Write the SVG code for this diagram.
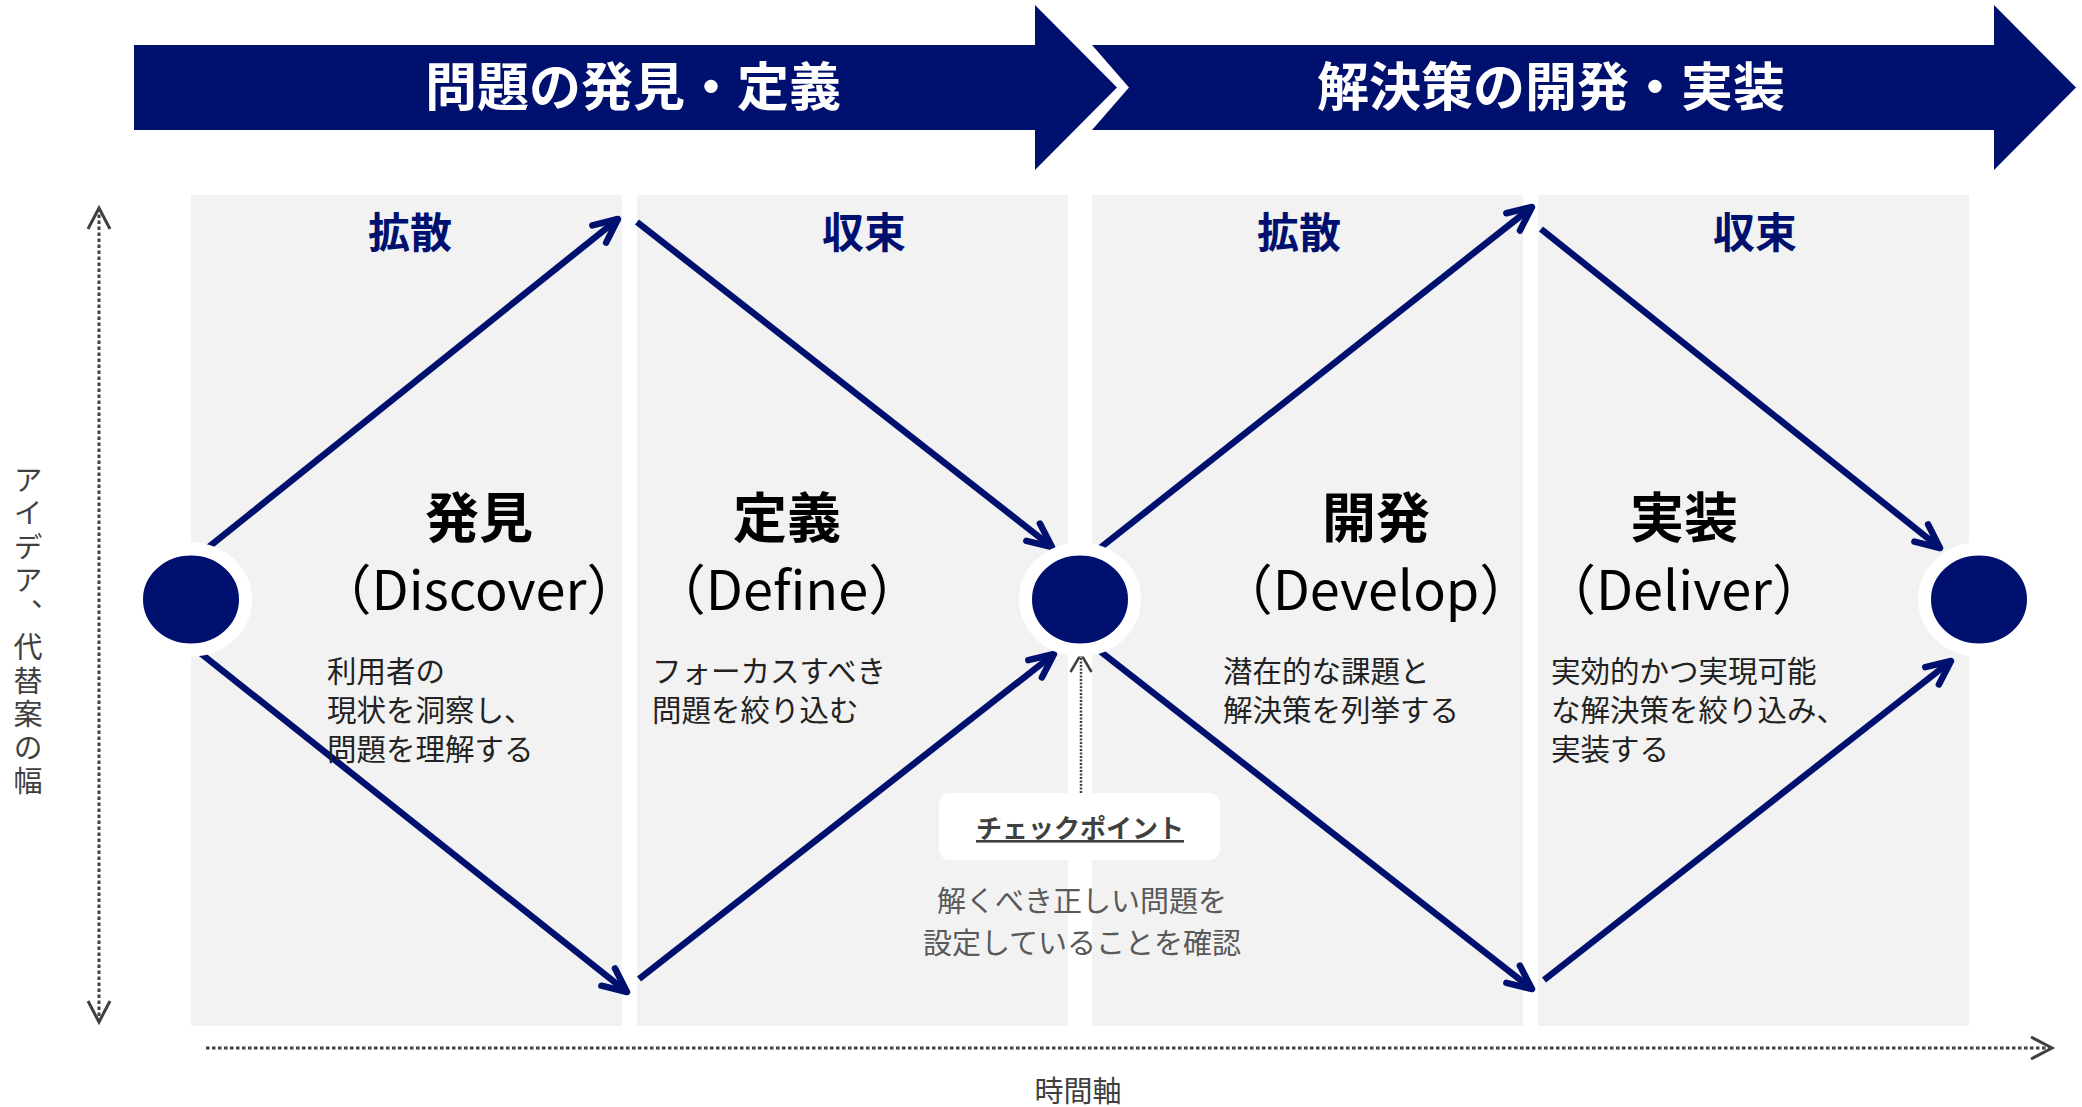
<svg xmlns="http://www.w3.org/2000/svg" width="2082" height="1107" viewBox="0 0 2082 1107">
<style>
.jp{font-family:"Noto Sans CJK JP","Noto Sans",sans-serif}
.ban{fill:#00106F}
.hdr{fill:#FFFFFF;font-size:52px;font-weight:700;text-anchor:middle}
.panel{fill:#F2F2F2}
.phase{fill:#00106F;font-size:42px;font-weight:700;text-anchor:middle}
.title{fill:#000000;font-size:54px;font-weight:700;text-anchor:middle}
.sub{fill:#000000;font-size:54px;font-weight:400;text-anchor:middle}
.desc{fill:#222222;font-size:29.5px}
.dot{fill:#00106F;stroke:#FFFFFF;stroke-width:13}
.arr{fill:none;stroke:#00106F;stroke-width:6.5;marker-end:url(#ah)}
.axis{fill:none;stroke:#404040;stroke-width:3;stroke-dasharray:3.5 2.5}
.note{fill:#595959;font-size:29px;text-anchor:middle}
.axl{fill:#404040;font-size:29px}
</style>
<defs>
<marker id="ah" markerUnits="userSpaceOnUse" orient="auto" refX="0" refY="0" markerWidth="40" markerHeight="40" overflow="visible">
<path d="M-24,-11 L0,0 L-24,11" fill="none" stroke="#00106F" stroke-width="6.5" stroke-linecap="round" stroke-linejoin="round"/>
</marker>
<marker id="gh" markerUnits="userSpaceOnUse" orient="auto-start-reverse" refX="0" refY="0" markerWidth="40" markerHeight="40" overflow="visible">
<path d="M-21,-11 L0,0 L-21,11" fill="none" stroke="#404040" stroke-width="3" stroke-dasharray="none" stroke-linejoin="miter"/>
</marker>
<marker id="ch" markerUnits="userSpaceOnUse" orient="auto" refX="0" refY="0" markerWidth="40" markerHeight="40" overflow="visible">
<path d="M-18,-10.5 L0,0 L-18,10.5" fill="none" stroke="#404040" stroke-width="2.5" stroke-dasharray="none"/>
</marker>
</defs>

<g id="banner-problem">
<polygon class="ban" points="134,45 1035,45 1035,5 1117,87.5 1035,170 1035,130 134,130"/>
<text class="jp hdr" x="633" y="106">問題の発見・定義</text>
</g>
<g id="banner-solution">
<polygon class="ban" points="1092,45 1994,45 1994,5 2076,87.5 1994,170 1994,130 1092,130 1129,87.5"/>
<text class="jp hdr" x="1551" y="106">解決策の開発・実装</text>
</g>

<g id="panel-discover">
<rect class="panel" x="191" y="195" width="431" height="831"/>
</g>
<g id="panel-define">
<rect class="panel" x="637" y="195" width="431" height="831"/>
</g>
<g id="panel-develop">
<rect class="panel" x="1092" y="195" width="431" height="831"/>
</g>
<g id="panel-deliver">
<rect class="panel" x="1538" y="195" width="431" height="831"/>
</g>

<g id="connectors">
<path class="arr" d="M205,550 L618,219"/>
<path class="arr" d="M199,652 L627,992"/>
<path class="arr" d="M637,222 L1052,547"/>
<path class="arr" d="M639,979 L1054,654"/>
<path class="arr" d="M1100,548 L1532,207"/>
<path class="arr" d="M1096,648 L1532,989"/>
<path class="arr" d="M1541,229 L1940,548"/>
<path class="arr" d="M1544,980 L1951,661"/>
<path d="M1081,793 L1081,654" fill="none" stroke="#404040" stroke-width="2.5" stroke-dasharray="2 1.5" marker-end="url(#ch)"/>
<path class="axis" d="M99,1022 L99,208" marker-start="url(#gh)" marker-end="url(#gh)"/>
<path class="axis" d="M206,1048 L2052,1048" marker-end="url(#gh)"/>
</g>

<g id="node-start"><ellipse class="dot" cx="191" cy="599.5" rx="54.5" ry="50.5"/></g>
<g id="node-checkpoint-dot"><ellipse class="dot" cx="1080" cy="599.5" rx="54.5" ry="50.5"/></g>
<g id="node-end"><ellipse class="dot" cx="1979" cy="599.5" rx="54.5" ry="50.5"/></g>

<g id="label-diverge-1"><text class="jp phase" x="410" y="248">拡散</text></g>
<g id="label-converge-1"><text class="jp phase" x="864" y="248">収束</text></g>
<g id="label-diverge-2"><text class="jp phase" x="1299" y="248">拡散</text></g>
<g id="label-converge-2"><text class="jp phase" x="1755" y="248">収束</text></g>

<g id="node-discover">
<text class="jp title" x="479" y="538">発見</text>
<text class="jp sub" x="479" y="610">（Discover）</text>
<text class="jp desc" x="327" y="682">利用者の</text>
<text class="jp desc" x="327" y="721">現状を洞察し、</text>
<text class="jp desc" x="327" y="760">問題を理解する</text>
</g>
<g id="node-define">
<text class="jp title" x="787" y="538">定義</text>
<text class="jp sub" x="787" y="610">（Define）</text>
<text class="jp desc" x="652" y="682">フォーカスすべき</text>
<text class="jp desc" x="652" y="721">問題を絞り込む</text>
</g>
<g id="node-develop">
<text class="jp title" x="1376" y="538">開発</text>
<text class="jp sub" x="1376" y="610">（Develop）</text>
<text class="jp desc" x="1223" y="682">潜在的な課題と</text>
<text class="jp desc" x="1223" y="721">解決策を列挙する</text>
</g>
<g id="node-deliver">
<text class="jp title" x="1684" y="538">実装</text>
<text class="jp sub" x="1684" y="610">（Deliver）</text>
<text class="jp desc" x="1551" y="682">実効的かつ実現可能</text>
<text class="jp desc" x="1551" y="721">な解決策を絞り込み、</text>
<text class="jp desc" x="1551" y="760">実装する</text>
</g>

<g id="node-checkpoint">
<rect x="939" y="793" width="281" height="67" rx="11" fill="#FFFFFF"/>
<text class="jp" x="1080" y="838" fill="#404040" font-size="26" font-weight="700" text-anchor="middle" text-decoration="underline">チェックポイント</text>
<text class="jp note" x="1082" y="912">解くべき正しい問題を</text>
<text class="jp note" x="1082" y="954">設定していることを確認</text>
</g>

<g id="axis-labels">
<text class="jp axl" x="1078" y="1102" text-anchor="middle">時間軸</text>
<text class="jp axl" x="28" y="465" style="writing-mode:vertical-rl;letter-spacing:4.5px">アイデア、代替案の幅</text>
</g>
</svg>
